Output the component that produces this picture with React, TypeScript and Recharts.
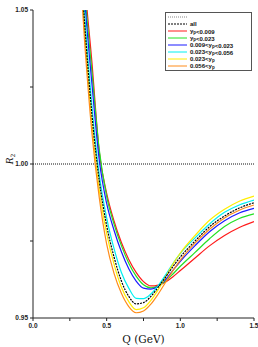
import {
  LineChart,
  Line,
  XAxis,
  YAxis,
  ReferenceLine,
  Label,
} from "recharts";

const Q = [
  0.3, 0.35, 0.4, 0.45, 0.5, 0.55, 0.6, 0.65, 0.7, 0.75, 0.8, 0.85, 0.9, 0.95,
  1.0, 1.1, 1.2, 1.3, 1.4, 1.5,
];

const ALL = [
  1.083, 1.046, 1.016, 0.9945, 0.98, 0.9698, 0.962, 0.957, 0.9546, 0.955,
  0.957, 0.96, 0.9633, 0.9667, 0.9698, 0.975, 0.9797, 0.9831, 0.9857, 0.9874,
];
const LT009 = [
  1.1, 1.06, 1.033, 1.0038, 0.9905, 0.9815, 0.9745, 0.969, 0.9648, 0.9618,
  0.9604, 0.9607, 0.9617, 0.9634, 0.9654, 0.9695, 0.9735, 0.9768, 0.9794, 0.9813,
];
const LT023 = [
  1.096, 1.057, 1.03, 1.0045, 0.9895, 0.9805, 0.9735, 0.9678, 0.9636, 0.9608,
  0.9598, 0.9604, 0.962, 0.9643, 0.9668, 0.9713, 0.9758, 0.9797, 0.9823, 0.9838,
];
const B009_023 = [
  1.092, 1.054, 1.026, 1.0012, 0.9872, 0.9785, 0.9715, 0.966, 0.962, 0.9597,
  0.9594, 0.9603, 0.9625, 0.9655, 0.9684, 0.9735, 0.9781, 0.9816, 0.9841, 0.9856,
];
const B023_056 = [
  1.086, 1.049, 1.019, 0.9965, 0.9825, 0.9725, 0.9648, 0.9597, 0.9564, 0.9563,
  0.9578, 0.9605, 0.964, 0.9677, 0.971, 0.976, 0.9806, 0.9843, 0.9867, 0.9883,
];
const GT023 = [
  1.08, 1.043, 1.013, 0.9915, 0.9775, 0.9675, 0.96, 0.9553, 0.9527, 0.9533,
  0.9557, 0.9592, 0.9633, 0.9675, 0.9711, 0.9768, 0.9818, 0.9853, 0.9879, 0.9896,
];
const GT056 = [
  1.078, 1.04, 1.01, 0.989, 0.974, 0.9645, 0.958, 0.9537, 0.9517, 0.9523,
  0.9545, 0.9578, 0.9616, 0.9654, 0.9688, 0.9743, 0.9789, 0.9825, 0.985, 0.9867,
];

const X_TICKS = [0, 0.25, 0.5, 0.75, 1.0, 1.25, 1.5];
const X_LABELS: Record<number, string> = { 0: "0.0", 0.5: "0.5", 1: "1.0", 1.5: "1.5" };
const Y_TICKS = [0.95, 0.975, 1.0, 1.025, 1.05];
const Y_LABELS: Record<number, string> = { 0.95: "0.95", 1: "1.00", 1.05: "1.05" };

const data = Q.map((q, i) => ({
  q,
  all: ALL[i],
  lt009: LT009[i],
  lt023: LT023[i],
  b1: B009_023[i],
  b2: B023_056[i],
  gt023: GT023[i],
  gt056: GT056[i],
}));

const SERIES = [
  { key: "lt009", color: "#ff1a1a" },
  { key: "lt023", color: "#22e022" },
  { key: "b1", color: "#1a1aff" },
  { key: "b2", color: "#00f0f0" },
  { key: "gt023", color: "#ffee00" },
  { key: "gt056", color: "#ff8c1a" },
  { key: "all", color: "#000000", dash: "2 1" },
];

const tickStyle = {
  fontSize: 6.5,
  fontWeight: "bold" as const,
  fill: "#222",
  fontFamily: "Liberation Sans, Arial, sans-serif",
};

// y with a small p subscript
function Yp() {
  return (
    <>
      <tspan>y</tspan>
      <tspan fontSize={4.5} dy={1.2}>p</tspan>
      <tspan dy={-1.2}></tspan>
    </>
  );
}

function LegendBox() {
  const rows: { color: string; dash?: string; label: React.ReactNode }[] = [
    { color: "#888", dash: "1 1", label: null },
    { color: "#000", dash: "2 1", label: "all" },
    { color: "#ff1a1a", label: <><Yp />{"<0.009"}</> },
    { color: "#22e022", label: <><Yp />{"<0.023"}</> },
    { color: "#1a1aff", label: <>{"0.009<"}<Yp />{"<0.023"}</> },
    { color: "#00f0f0", label: <>{"0.023<"}<Yp />{"<0.056"}</> },
    { color: "#ffee00", label: <>{"0.023<"}<Yp /></> },
    { color: "#ff8c1a", label: <>{"0.056<"}<Yp /></> },
  ];
  return (
    <g>
      <rect x={165.5} y={12.5} width={86} height={58} fill="#fff" stroke="#555" strokeWidth={1} />
      {rows.map((r, i) => {
        const y = 17 + i * 7;
        return (
          <g key={i}>
            <line x1={168} x2={187} y1={y} y2={y} stroke={r.color} strokeWidth={1} strokeDasharray={r.dash} />
            <text
              x={190}
              y={y + 2.2}
              fontSize={6}
              fontWeight="bold"
              fontFamily="Liberation Sans, Arial, sans-serif"
              fill="#111"
            >
              {r.label}
            </text>
          </g>
        );
      })}
    </g>
  );
}

export default function App() {
  return (
    <div style={{ position: "absolute", left: 0, top: 0, width: 258, height: 347, background: "#fff" }}>
      <LineChart
        width={258}
        height={347}
        data={data}
        margin={{ top: 10, right: 4, bottom: 4, left: 8 }}
      >
        <XAxis
          dataKey="q"
          type="number"
          domain={[0, 1.5]}
          ticks={X_TICKS}
          tickFormatter={(v: number) => X_LABELS[v] ?? ""}
          tick={tickStyle}
          tickSize={3}
          height={25}
          stroke="#222"
          allowDataOverflow
        >
          <Label
            value="Q (GeV)"
            position="insideBottom"
            offset={0}
            style={{ fontSize: 10.5, fontFamily: "DejaVu Serif, serif", fill: "#111" }}
          />
        </XAxis>
        <XAxis
          xAxisId="top"
          orientation="top"
          dataKey="q"
          type="number"
          domain={[0, 1.5]}
          ticks={X_TICKS}
          tickFormatter={() => ""}
          tickSize={2}
          height={0}
          stroke="#222"
        />
        <YAxis
          type="number"
          domain={[0.95, 1.05]}
          ticks={Y_TICKS}
          tickFormatter={(v: number) => Y_LABELS[v] ?? ""}
          tick={tickStyle}
          tickSize={3}
          width={25}
          stroke="#222"
          allowDataOverflow
        />
        <YAxis
          yAxisId="right"
          orientation="right"
          type="number"
          domain={[0.95, 1.05]}
          ticks={Y_TICKS}
          tickFormatter={() => ""}
          tickSize={2}
          width={0}
          stroke="#222"
        />
        <ReferenceLine y={1} stroke="#111" strokeDasharray="1 1" strokeWidth={1} />
        {SERIES.map((s) => (
          <Line
            key={s.key}
            dataKey={s.key}
            type="monotone"
            stroke={s.color}
            strokeWidth={1.2}
            strokeDasharray={s.dash}
            dot={false}
            isAnimationActive={false}
          />
        ))}
      </LineChart>
      <svg
        width={258}
        height={347}
        style={{ position: "absolute", left: 0, top: 0, pointerEvents: "none" }}
      >
        <LegendBox />
        <text
          transform="translate(13,159) rotate(-90)"
          textAnchor="middle"
          fontSize={9}
          fontStyle="italic"
          fontFamily="DejaVu Serif, serif"
          fill="#111"
        >
          R
          <tspan fontSize={6} dy={2} fontStyle="normal">2</tspan>
        </text>
      </svg>
    </div>
  );
}
